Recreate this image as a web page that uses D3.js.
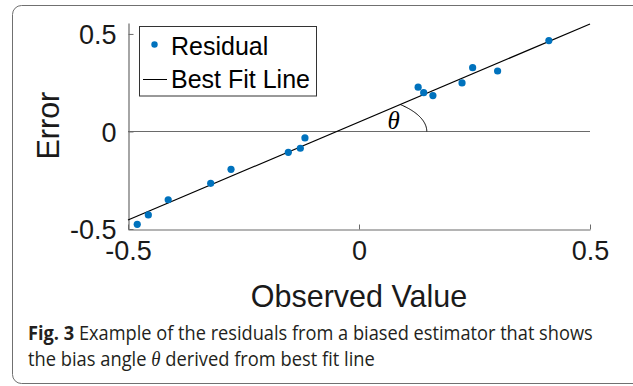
<!DOCTYPE html>
<html>
<head>
<meta charset="utf-8">
<script src="https://cdn.jsdelivr.net/npm/d3@7"></script>
<style>
  body { margin: 0; background: #fff; }
  svg { display: block; }
</style>
</head>
<body>
<div id="chart"></div>
<script>
// residual data
const observed = [-0.480, -0.456, -0.413, -0.321, -0.277, -0.153, -0.127, -0.117,
                  0.128, 0.140, 0.160, 0.223, 0.246, 0.300, 0.411];
const errors   = [-0.476, -0.428, -0.350, -0.266, -0.194, -0.107, -0.086, -0.033,
                  0.227, 0.199, 0.184, 0.249, 0.327, 0.310, 0.466];
// best fit line end points
const fitX = [-0.5, 0.5];
const fitY = [-0.454, 0.551];
const xTicks = [-0.5, 0, 0.5];
const yTicks = [-0.5, 0, 0.5];
const xDomain = [-0.5, 0.5];
const yDomain = [-0.5, 0.556];
const legendLabels = ["Residual", "Best Fit Line"];

const W = 633, H = 386;
const blue = "#0072BD";
const axisCol = "#6a6a6a";
const textCol = "#1a1a1a";
const font = "'Liberation Sans', Arial, Helvetica, sans-serif";

let svg = d3.select("#chart")
  .append("svg")
    .attr("width", W)
    .attr("height", H);

// figure frame
svg.append("rect")
    .attr("x", 12.5).attr("y", 5.5)
    .attr("width", 700).attr("height", 378)
    .attr("rx", 9)
    .attr("fill", "none")
    .attr("stroke", "#707070")
    .attr("stroke-width", 1);

let x = d3.scaleLinear().domain(xDomain).range([128, 590]);
let y = d3.scaleLinear().domain(yDomain).range([229, 23]);

let g = svg.append("g");

// zero line
g.append("line")
    .attr("x1", x(xDomain[0])).attr("x2", x(xDomain[1]))
    .attr("y1", Math.round(y(0)) + 0.5).attr("y2", Math.round(y(0)) + 0.5)
    .attr("stroke", axisCol)
    .attr("stroke-width", 1.2);

// matlab style labels use a plain hyphen
function tickLabel(d) { return String(d); }

// axes, ticks pointing inward like matlab
let xAxis = g.append("g")
    .attr("transform", "translate(0," + (Math.round(y(yDomain[0])) + 0.5) + ")")
    .call(d3.axisBottom(x).tickValues(xTicks).tickSizeInner(-5).tickSizeOuter(0).tickPadding(14)
      .tickFormat(tickLabel));
let yAxis = g.append("g")
    .attr("transform", "translate(" + (Math.round(x(xDomain[0])) + 0.5) + ",0)")
    .call(d3.axisLeft(y).tickValues(yTicks).tickSizeInner(-5).tickSizeOuter(0).tickPadding(12)
      .tickFormat(tickLabel));

[xAxis, yAxis].forEach(function(a) {
  a.select(".domain").attr("stroke", axisCol).attr("stroke-width", 1.2);
  a.selectAll(".tick line").attr("stroke", axisCol);
  a.selectAll(".tick text")
    .attr("fill", textCol)
    .style("font-family", font)
    .style("font-size", "27px");
});
xAxis.selectAll(".tick text").attr("dy", "0.6em");
yAxis.selectAll(".tick text").attr("dy", "0.36em");

// axis labels
svg.append("text")
    .attr("x", x(0))
    .attr("y", 307)
    .attr("text-anchor", "middle")
    .attr("fill", textCol)
    .style("font-family", font)
    .style("font-size", "30.5px")
    .text("Observed Value");

svg.append("text")
    .attr("transform", "translate(59," + y(0.03) + ")rotate(-90)")
    .attr("text-anchor", "middle")
    .attr("fill", textCol)
    .style("font-family", font)
    .style("font-size", "30.5px")
    .text("Error");

// best fit line
g.append("line")
    .attr("x1", x(fitX[0])).attr("y1", y(fitY[0]))
    .attr("x2", x(fitX[1])).attr("y2", y(fitY[1]))
    .attr("stroke", "#000")
    .attr("stroke-width", 1.2);

// angle arc between zero line and fit line
const slope = (fitY[1] - fitY[0]) / (fitX[1] - fitX[0]);
const x0 = fitX[0] - fitY[0] / slope;
const arcR = 0.195;
const angles = d3.range(0, 41).map(function(i) { return Math.atan(slope) * i / 40; });
g.append("path")
    .datum(angles)
    .attr("d", d3.line()
      .x(function(a) { return x(x0 + arcR * Math.cos(a)); })
      .y(function(a) { return y(arcR * Math.sin(a)); }))
    .attr("fill", "none")
    .attr("stroke", "#000")
    .attr("stroke-width", 1);

g.append("text")
    .attr("x", x(0.075))
    .attr("y", y(0) - 2)
    .attr("text-anchor", "middle")
    .attr("fill", "#000")
    .style("font-family", "'Liberation Serif', 'Times New Roman', serif")
    .style("font-style", "italic")
    .style("font-size", "25px")
    .text("\u03B8");

// residual points
g.selectAll("circle.pt")
  .data(observed)
  .enter()
  .append("circle")
    .attr("class", "pt")
    .attr("cx", function(d) { return x(d); })
    .attr("cy", function(d, i) { return y(errors[i]); })
    .attr("r", 3.6)
    .attr("fill", blue);

// legend
let leg = svg.append("g");
leg.append("rect")
    .attr("x", 139.5).attr("y", 26.5)
    .attr("width", 177).attr("height", 69.5)
    .attr("fill", "#fff")
    .attr("stroke", "#333")
    .attr("stroke-width", 1);
leg.append("circle")
    .attr("cx", 154.5).attr("cy", 44.5)
    .attr("r", 3.2)
    .attr("fill", blue);
leg.append("line")
    .attr("x1", 143).attr("x2", 167)
    .attr("y1", 79.5).attr("y2", 79.5)
    .attr("stroke", "#000")
    .attr("stroke-width", 1);
leg.selectAll("text")
  .data(legendLabels)
  .enter()
  .append("text")
    .attr("x", 171)
    .attr("y", function(d, i) { return 55 + i * 33; })
    .attr("fill", "#000")
    .style("font-family", font)
    .style("font-size", "25px")
    .text(function(d) { return d; });

// caption, squeezed to the widths in the figure
const capFont = "'Open Sans', 'Noto Sans', sans-serif";
function captionLine(yPos, parts, targetWidth) {
  let t = svg.append("text")
      .attr("y", yPos)
      .attr("fill", "#231f20")
      .style("font-family", capFont)
      .style("font-size", "19.5px");
  parts.forEach(function(p) {
    let s = t.append("tspan").text(p.text);
    if (p.bold) s.style("font-weight", "bold");
    if (p.theta) s.style("font-family", "'Liberation Serif', serif").style("font-style", "italic").style("font-size", "20px");
  });
  let w = t.node().getComputedTextLength();
  t.attr("transform", "translate(28,0)scale(" + (targetWidth / w) + ",1)");
}
captionLine(340, [{text: "Fig. 3", bold: true}, {text: " Example of the residuals from a biased estimator that shows"}], 565);
captionLine(366, [{text: "the bias angle "}, {text: "\u03B8", theta: true}, {text: " derived from best fit line"}], 347);
</script>
</body>
</html>
